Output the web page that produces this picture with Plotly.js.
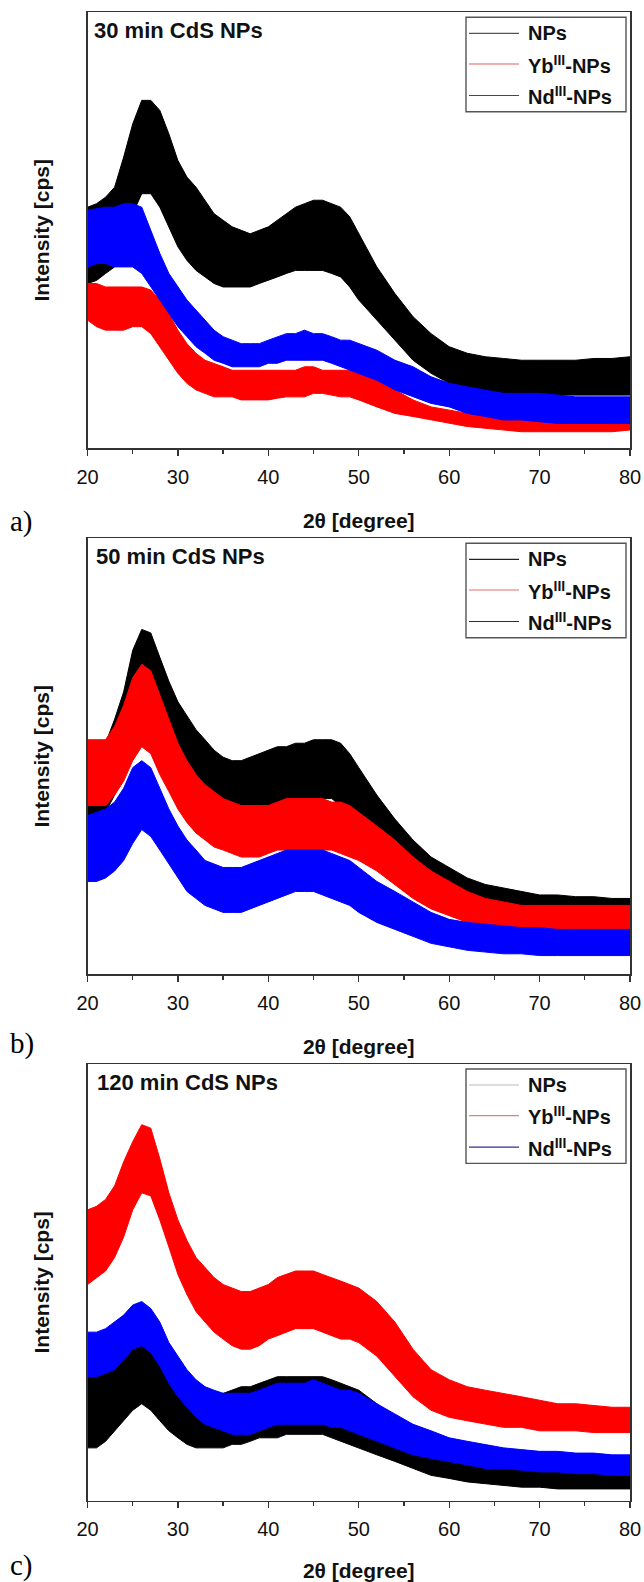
<!DOCTYPE html>
<html><head><meta charset="utf-8">
<script src="https://cdn.plot.ly/plotly-3.0.1.min.js"></script>
<style>html,body{margin:0;padding:0;background:#fff}</style>
</head><body><div id="chart" style="width:644px;height:1582px"></div>
<script>
// 2-theta grid (degree) at which the band envelopes were read
const twoTheta = [20,21,22,23,24,25,26,27,28,29,30,31,32,33,34,35,36,37,38,39,40,41,42,43,44,45,46,47,48,49,50,52,54,56,58,60,62,64,66,68,70,72,74,76,78,80];
const xTickVals = [20,30,40,50,60,70,80];
const seriesNames = ['NPs','Yb<sup>III</sup>-NPs','Nd<sup>III</sup>-NPs'];
const panelTitles = ['30 min CdS NPs','50 min CdS NPs','120 min CdS NPs'];
const panelLetters = ['a)','b)','c)'];

// Panel a (30 min) – upper / lower envelope of the noisy pattern, arbitrary intensity units
const a_NPs_hi = [55.3,56.1,57.6,59.9,66.8,74.4,79.8,79.8,77.5,72.1,66.0,62.2,59.9,56.9,53.8,52.3,50.8,50.0,49.2,50.0,50.8,52.3,53.8,55.3,56.1,56.9,56.9,56.1,55.3,53.1,49.2,41.6,35.5,30.2,26.3,23.3,21.8,21.0,20.6,20.2,20.2,20.2,20.2,20.6,20.6,21.0];
const a_NPs_lo = [37.8,38.5,40.1,41.6,46.2,53.8,58.4,58.4,55.3,50.8,46.2,43.1,40.8,39.3,37.8,37.0,37.0,37.0,37.0,37.8,38.5,39.3,40.1,40.8,40.8,40.8,40.8,40.1,39.3,37.0,34.0,29.4,24.8,20.2,17.2,14.9,13.4,12.6,12.6,12.6,12.2,12.2,12.2,12.2,12.2,12.2];
const a_Yb_hi = [37.8,37.8,37.0,37.0,37.0,37.0,37.0,36.3,34.0,30.9,27.1,24.0,21.8,20.2,19.5,18.7,17.9,17.9,17.9,17.9,17.9,17.9,17.9,17.9,18.7,18.7,17.9,17.9,17.9,17.9,17.2,15.6,13.4,11.1,9.5,8.8,8.0,7.3,7.3,7.3,7.3,7.3,7.3,7.3,7.3,7.3];
const a_Yb_lo = [29.4,27.9,27.1,27.1,27.1,27.9,27.9,26.3,23.3,20.2,17.2,14.9,13.4,12.6,11.8,11.8,11.8,11.1,11.1,11.1,11.1,11.5,11.8,11.8,11.8,12.6,12.6,12.2,11.8,11.8,11.1,9.5,8.0,7.3,6.5,5.7,5.0,4.6,4.2,3.8,3.8,3.8,3.8,3.8,3.8,4.2];
const a_Nd_hi = [54.6,55.0,55.3,55.3,56.1,56.1,55.3,50.0,44.7,40.1,37.0,34.0,31.7,29.4,27.1,25.6,24.8,24.0,24.0,24.0,24.8,25.6,26.3,26.3,27.1,26.3,26.3,25.6,24.8,24.8,24.0,22.5,20.2,18.7,16.4,14.9,14.1,13.4,12.6,12.6,12.6,12.2,11.8,11.8,11.8,11.8];
const a_Nd_lo = [41.6,42.4,42.4,41.6,41.6,41.6,40.1,37.0,34.0,30.9,27.9,25.6,23.3,21.8,20.2,19.5,18.7,18.7,18.7,18.7,19.5,19.5,20.2,20.2,20.2,20.2,20.2,19.5,18.7,17.9,17.2,15.6,13.4,11.8,10.3,9.5,8.0,7.3,6.5,6.5,6.1,5.7,5.7,5.7,5.7,5.7];

// Panel b (50 min)
const b_NPs_hi = [49.0,49.8,53.0,58.5,64.8,74.3,79.1,78.3,72.7,67.2,62.5,59.3,56.1,53.8,51.4,49.8,49.0,49.0,49.8,50.6,51.4,52.2,52.2,53.0,53.0,53.8,53.8,53.8,53.0,50.6,47.4,41.1,35.6,30.8,26.9,24.5,22.1,20.6,19.8,19.0,18.2,18.2,17.8,17.8,17.4,17.4];
const b_NPs_lo = [34.8,35.6,37.2,41.1,46.6,53.8,58.5,57.7,53.8,49.8,45.8,42.7,40.3,38.7,37.2,36.4,36.4,36.4,37.2,37.9,38.7,39.5,39.5,39.5,40.3,40.3,40.3,40.3,38.7,37.2,34.8,30.0,26.1,22.1,19.0,16.6,15.0,13.4,12.6,11.9,11.5,11.1,11.1,10.7,10.3,10.3];
const b_Yb_hi = [53.8,53.8,53.8,56.9,61.7,68.0,71.1,69.6,64.0,58.5,53.0,49.0,45.8,43.5,41.9,40.3,39.5,38.7,38.7,38.7,38.7,39.5,40.3,40.3,40.3,40.3,40.3,39.5,39.5,38.7,37.2,34.0,30.8,26.9,23.7,21.3,19.0,17.4,16.6,15.8,15.8,15.8,15.8,15.8,15.8,15.8];
const b_Yb_lo = [38.7,38.7,38.7,41.1,44.3,49.0,52.2,50.6,45.8,41.9,37.9,34.8,32.4,30.8,29.2,28.5,27.7,26.9,26.9,26.9,27.7,28.5,28.5,28.5,28.5,28.5,28.5,28.5,27.7,26.9,26.1,23.7,20.6,17.4,15.0,13.4,11.9,11.1,10.3,9.9,9.5,9.5,9.5,9.5,9.5,9.5];
const b_Nd_hi = [36.4,37.2,37.9,39.5,42.7,47.4,49.0,47.4,42.7,37.9,34.0,30.8,28.5,26.1,25.3,24.5,24.5,24.5,25.3,26.1,26.9,27.7,28.5,28.5,28.5,28.5,28.5,27.7,26.9,26.1,24.5,21.3,19.0,16.6,14.2,12.6,11.9,11.5,11.1,10.7,10.7,10.3,10.3,10.3,10.3,10.3];
const b_Nd_lo = [21.3,21.3,22.1,23.7,26.1,30.0,33.2,31.6,28.5,25.3,22.1,19.0,17.4,15.8,15.0,14.2,14.2,14.2,15.0,15.8,16.6,17.4,18.2,19.0,19.0,19.0,18.2,17.4,16.6,15.8,14.2,11.9,10.3,8.7,7.1,6.3,5.5,5.1,4.7,4.7,4.3,4.3,4.3,4.3,4.3,4.3];

// Panel c (120 min)
const c_NPs_hi = [28.4,28.4,29.2,30.0,32.3,34.7,35.5,34.7,31.6,27.7,25.3,23.8,23.0,23.0,23.8,24.6,25.3,26.1,26.1,26.9,27.7,28.4,28.4,28.4,28.4,28.4,28.4,27.7,26.9,26.1,25.3,22.2,19.1,16.8,14.4,12.9,11.3,10.5,9.7,9.4,9.0,8.6,8.6,8.2,8.2,8.2];
const c_NPs_lo = [12.1,12.1,13.6,16.0,18.3,20.7,22.2,20.7,18.3,16.0,14.4,12.9,12.1,12.1,12.1,12.1,12.9,12.9,13.6,14.4,14.4,14.4,15.2,15.2,15.2,15.2,15.2,14.4,13.6,12.9,12.1,10.5,9.0,7.4,5.8,5.1,4.3,3.9,3.5,3.1,3.1,2.7,2.7,2.7,2.7,2.7];
const c_Yb_hi = [66.6,67.4,69.0,72.1,77.6,82.2,86.1,85.3,78.3,70.5,64.3,59.6,55.7,53.4,51.1,49.5,48.7,47.9,47.9,48.7,49.5,51.1,51.8,52.6,52.6,52.6,51.8,51.1,50.3,49.5,48.7,45.6,40.9,34.7,30.0,27.7,26.1,25.3,24.6,23.8,23.0,22.2,22.2,21.8,21.4,21.4];
const c_Yb_lo = [49.5,51.1,52.6,55.7,60.4,66.6,70.5,69.8,64.3,58.1,51.8,47.2,43.3,40.9,38.6,37.0,35.5,34.7,34.7,35.5,37.0,37.8,38.6,39.4,39.4,39.4,38.6,37.8,37.0,37.0,36.2,33.1,28.4,23.8,20.7,19.1,18.3,17.5,16.8,16.8,16.0,16.0,16.0,15.6,15.6,15.6];
const c_Nd_hi = [38.6,38.6,39.4,40.9,42.5,44.8,45.6,44.0,40.9,36.2,33.1,30.0,27.7,26.1,25.3,24.6,24.6,24.6,24.6,25.3,26.1,26.9,26.9,26.9,26.9,27.7,26.9,26.1,25.3,25.3,24.6,22.2,19.9,17.5,16.0,14.4,13.6,12.9,12.1,11.7,11.3,11.3,10.9,10.9,10.5,10.5];
const c_Nd_lo = [28.4,28.4,29.2,30.0,32.3,34.7,35.5,33.9,30.8,26.9,23.8,21.4,19.1,17.5,16.8,16.0,15.2,15.2,15.2,16.0,16.8,17.5,17.5,17.5,17.5,17.5,17.5,16.8,16.8,16.0,15.2,13.6,12.1,10.5,9.7,9.0,8.2,7.4,7.4,7.0,6.6,6.6,6.2,6.2,5.8,5.8];

const panels = [
  {hi:[a_NPs_hi,a_Yb_hi,a_Nd_hi], lo:[a_NPs_lo,a_Yb_lo,a_Nd_lo]},
  {hi:[b_NPs_hi,b_Yb_hi,b_Nd_hi], lo:[b_NPs_lo,b_Yb_lo,b_Nd_lo]},
  {hi:[c_NPs_hi,c_Yb_hi,c_Nd_hi], lo:[c_NPs_lo,c_Yb_lo,c_Nd_lo]}
];
const seriesColors = ['#000000','#ff0000','#0000ff'];
const legendLineColors = [
  ['#555555','#e06060','#3838c8'],
  ['#222222','#e07070','#22228a'],
  ['#bbbbbb','#e08080','#30308a']
];

const W = 644, H = 1582;
const FONT = 'Liberation Sans, Arial, Helvetica, sans-serif';
const SERIF = 'Liberation Serif, Times New Roman, serif';
const px = v => v / W;
const py = v => 1 - v / H;

// plot-box geometry in pixels (layout only)
const boxLeft = 87.5, boxRight = 630;
const boxTop = [12.3, 538.3, 1064];
const boxBottom = [448.3, 974.3, 1500.7];
const titleLeft = [92, 94, 95];
const letterY = [521, 1043, 1565];

const traces = [];
const layout = {
  width: W, height: H,
  margin: {l:0, r:0, t:0, b:0},
  paper_bgcolor: '#ffffff', plot_bgcolor: '#ffffff',
  showlegend: false,
  font: {family: FONT, color: '#111111'},
  shapes: [], annotations: []
};

panels.forEach((p, i) => {
  const sfx = i === 0 ? '' : String(i + 1);
  const xa = 'x' + sfx, ya = 'y' + sfx;
  for (let s = 0; s < 3; s++) {
    traces.push({
      x: twoTheta, y: p.lo[s], xaxis: xa, yaxis: ya, type: 'scatter', mode: 'lines',
      line: {color: seriesColors[s], width: 1}, showlegend: false, hoverinfo: 'skip'
    });
    traces.push({
      x: twoTheta, y: p.hi[s], xaxis: xa, yaxis: ya, type: 'scatter', mode: 'lines',
      name: seriesNames[s], fill: 'tonexty', fillcolor: seriesColors[s],
      line: {color: seriesColors[s], width: 1}, showlegend: false
    });
  }
  layout['xaxis' + sfx] = {
    domain: [px(boxLeft), px(boxRight)], anchor: ya, range: [20, 80],
    tickmode: 'array', tickvals: xTickVals, ticks: 'outside', ticklen: 6, tickwidth: 1.3, tickcolor: '#333',
    minor: {dtick: 5, tick0: 20, ticks: 'outside', ticklen: 4, tickwidth: 1.3, tickcolor: '#333'},
    showline: true, linecolor: '#333', linewidth: 1.5, mirror: true,
    showgrid: false, zeroline: false,
    tickfont: {size: 20, family: FONT, color: '#111'}, ticklabelstandoff: 4,
    title: {text: '<b>2θ [degree]</b>', font: {size: 21, family: FONT, color: '#111'}, standoff: 26}
  };
  layout['yaxis' + sfx] = {
    domain: [py(boxBottom[i]), py(boxTop[i])], anchor: xa, range: [0, 100],
    showticklabels: false, ticks: '', showline: true, linecolor: '#333', linewidth: 1.5, mirror: true,
    showgrid: false, zeroline: false,
    title: {text: '<b>Intensity [cps]</b>', font: {size: 21, family: FONT, color: '#111'}, standoff: 30}
  };
  // panel title
  layout.annotations.push({
    xref: 'paper', yref: 'paper', x: px(titleLeft[i]), y: py(boxTop[i] + 18.5),
    xanchor: 'left', yanchor: 'middle', showarrow: false,
    text: '<b>' + panelTitles[i] + '</b>', font: {size: 22, family: FONT, color: '#111'}
  });
  // panel letter
  layout.annotations.push({
    xref: 'paper', yref: 'paper', x: px(8), y: py(letterY[i]),
    xanchor: 'left', yanchor: 'middle', showarrow: false,
    text: panelLetters[i], font: {size: 29, family: SERIF, color: '#000'}
  });
  // legend box
  const t = boxTop[i];
  layout.shapes.push({
    type: 'rect', xref: 'paper', yref: 'paper', layer: 'above',
    x0: px(466), x1: px(626), y0: py(t + 5), y1: py(t + 99.4),
    line: {color: '#555', width: 1.4}, fillcolor: '#ffffff'
  });
  const rows = [21, 51.7, 83.2];
  for (let s = 0; s < 3; s++) {
    layout.shapes.push({
      type: 'line', xref: 'paper', yref: 'paper', layer: 'above',
      x0: px(469), x1: px(519), y0: py(t + rows[s]), y1: py(t + rows[s]),
      line: {color: legendLineColors[i][s], width: 1.2}
    });
    layout.annotations.push({
      xref: 'paper', yref: 'paper', x: px(526), y: py(t + rows[s]),
      xanchor: 'left', yanchor: 'middle', showarrow: false,
      text: '<b>' + seriesNames[s] + '</b>', font: {size: 20, family: FONT, color: '#111'}
    });
  }
});

Plotly.newPlot('chart', traces, layout, {staticPlot: true, displayModeBar: false});
</script></body></html>
